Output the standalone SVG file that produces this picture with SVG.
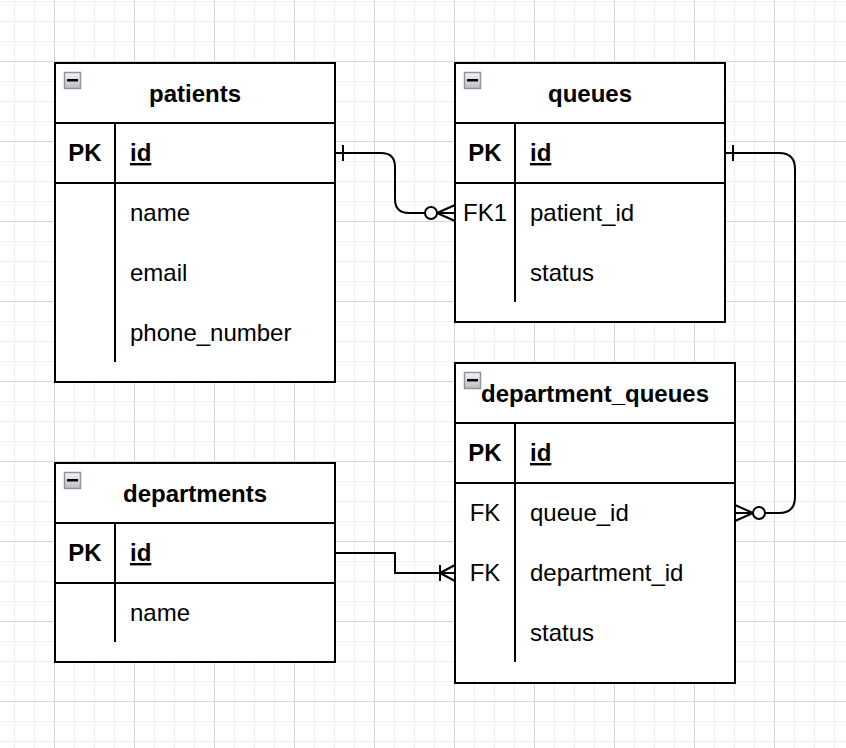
<svg xmlns="http://www.w3.org/2000/svg" width="846" height="748" viewBox="0 0 846 748">
<defs>
<pattern id="grid" x="54" y="61" width="80" height="80" patternUnits="userSpaceOnUse">
<path d="M20.5 0V80M40.5 0V80M60.5 0V80M0 20.5H80M0 40.5H80M0 60.5H80" stroke="#efefef" stroke-width="1" fill="none"/>
<path d="M0.5 0V80M0 0.5H80" stroke="#d6d6d6" stroke-width="1" fill="none"/>
</pattern>
<linearGradient id="ig" x1="0" y1="0" x2="0" y2="1">
<stop offset="0" stop-color="#f4f4f4"/>
<stop offset="1" stop-color="#bdbdbd"/>
</linearGradient>
<g id="icon">
<rect x="0.5" y="0.5" width="16" height="16" fill="url(#ig)" stroke="#8c93a3" stroke-width="1.5"/>
<rect x="3" y="7" width="11" height="2.5" fill="#000"/>
</g>
</defs>
<style>
.box{fill:#fff;stroke:#000;stroke-width:2}
.ln{stroke:#000;stroke-width:2;fill:none}
text{font-family:"Liberation Sans",Arial,Helvetica,sans-serif;font-size:24px;fill:#000}
.t{font-weight:bold;text-anchor:middle}
.k{font-weight:bold;text-anchor:middle}
.fk{text-anchor:middle}
.u{font-weight:bold;text-decoration:underline}
.c{stroke:#000;stroke-width:2;fill:none}
.o{stroke:#000;stroke-width:2;fill:#fff}
</style>
<rect width="846" height="748" fill="#fff"/>
<rect width="846" height="748" fill="url(#grid)"/>

<g id="patients">
<rect class="box" x="55" y="63" width="280" height="319"/>
<path class="ln" d="M55 123H335M55 183H335M115 123V362"/>
<use href="#icon" x="64" y="72"/>
<text class="t" x="195" y="102">patients</text>
<text class="k" x="85" y="161">PK</text>
<text class="u" x="130" y="161">id</text>
<text x="130" y="221">name</text>
<text x="130" y="281">email</text>
<text x="130" y="341">phone_number</text>
</g>

<g id="queues">
<rect class="box" x="455" y="63" width="270" height="259"/>
<path class="ln" d="M455 123H725M455 183H725M515 123V302"/>
<use href="#icon" x="464" y="72"/>
<text class="t" x="590" y="102">queues</text>
<text class="k" x="485" y="161">PK</text>
<text class="u" x="530" y="161">id</text>
<text class="fk" x="485" y="221">FK1</text>
<text x="530" y="221">patient_id</text>
<text x="530" y="281">status</text>
</g>

<g id="department_queues">
<rect class="box" x="455" y="363" width="280" height="320"/>
<path class="ln" d="M455 423H735M455 483H735M515 423V662"/>
<use href="#icon" x="464" y="372"/>
<text class="t" x="595" y="402">department_queues</text>
<text class="k" x="485" y="461">PK</text>
<text class="u" x="530" y="461">id</text>
<text class="fk" x="485" y="521">FK</text>
<text x="530" y="521">queue_id</text>
<text class="fk" x="485" y="581">FK</text>
<text x="530" y="581">department_id</text>
<text x="530" y="641">status</text>
</g>

<g id="departments">
<rect class="box" x="55" y="463" width="280" height="199"/>
<path class="ln" d="M55 523H335M55 583H335M115 523V642"/>
<use href="#icon" x="64" y="472"/>
<text class="t" x="195" y="502">departments</text>
<text class="k" x="85" y="561">PK</text>
<text class="u" x="130" y="561">id</text>
<text x="130" y="621">name</text>
</g>

<g id="connectors">
<path class="c" d="M335 153H381Q395 153 395 167V199Q395 213 409 213H455"/>
<path class="c" d="M343 145V161M437 213L455 205M437 213L455 221"/>
<circle class="o" cx="431" cy="213" r="6"/>

<path class="c" d="M725 153H779Q795 153 795 169V497Q795 513 779 513H735"/>
<path class="c" d="M733 145V161M753 513L735 505M753 513L735 521"/>
<circle class="o" cx="759" cy="513" r="6"/>

<path class="c" d="M335 553H395V573H455"/>
<path class="c" d="M440 565V581M440 573L455 565M440 573L455 581"/>
</g>
</svg>
